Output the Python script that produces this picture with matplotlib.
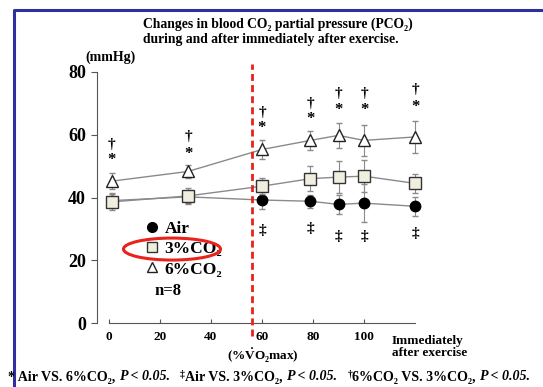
import numpy as np
import matplotlib.pyplot as plt
from matplotlib.lines import Line2D
from matplotlib.patches import Ellipse

# Data
x = [1, 31, 60, 79, 90, 100, 120]
air = [39.0, 40.2, 39.2, 38.8, 37.8, 38.2, 37.2]
air_err = [2.5, 2.0, 3.0, 2.0, 3.0, 6.0, 3.0]
co2_3 = [38.6, 40.5, 43.6, 46.0, 46.5, 46.8, 44.5]
co2_3_err = [2.5, 2.5, 2.5, 4.0, 5.0, 5.0, 3.0]
co2_6 = [45.2, 48.3, 55.3, 58.2, 59.8, 58.2, 59.3]
co2_6_err = [2.5, 2.0, 3.0, 3.0, 4.0, 5.0, 5.0]

star_y = [52, 54, 62, 65, 68, 68, 69]
dagger_y = [57, 59.5, 67, 70, 73, 73, 74.5]
ddagger_x = [60, 79, 90, 100, 120]
ddagger_y = [29.5, 30, 27.6, 27.6, 28.5]

xticks = [0, 20, 40, 60, 80, 100]
yticks = [0, 20, 40, 60, 80]
threshold = 56

serif = ['Liberation Serif', 'DejaVu Serif']
plt.rcParams['font.family'] = serif
plt.rcParams['font.weight'] = 'bold'
plt.rcParams['mathtext.fontset'] = 'custom'
plt.rcParams['mathtext.rm'] = 'Liberation Serif:bold'
plt.rcParams['mathtext.bf'] = 'Liberation Serif:bold'

W, H = 543, 387
fig = plt.figure(figsize=(W / 100, H / 100), dpi=100)
ax = fig.add_axes([97 / W, (H - 323) / H, (440 - 97) / W, (323 - 72) / H])
ax.set_xlim(-4.7, 129.8)
ax.set_ylim(0, 80)

grey = '#8a8a8a'
ax.errorbar(x, co2_6, yerr=co2_6_err, color=grey, lw=1, capsize=2, elinewidth=0.8,
            marker='^', ms=8.5, mfc='white', mec='#222222', mew=1, zorder=3)
ax.errorbar(x, co2_3, yerr=co2_3_err, color=grey, lw=1, capsize=2, elinewidth=0.8,
            marker='s', ms=8, mfc='#f0eede', mec='#333333', mew=1, zorder=4)
ax.errorbar(x, air, yerr=air_err, color=grey, lw=1, capsize=2, elinewidth=0.8,
            marker='o', ms=7.5, mfc='black', mec='black', zorder=2)

for xi, sy, dy in zip(x, star_y, dagger_y):
    ax.text(xi, sy, '*', ha='center', va='center', fontsize=12)
    ax.text(xi, dy, '†', ha='center', va='center', fontsize=11)
for xi, yi in zip(ddagger_x, ddagger_y):
    ax.text(xi, yi, '‡', ha='center', va='center', fontsize=11)

ax.plot([threshold, threshold], [-4, 82.5], color='#e8231c', ls=(0, (2.5, 1.5)),
        lw=2, clip_on=False, zorder=5)

for s in ['top', 'right']:
    ax.spines[s].set_visible(False)
ax.spines['left'].set_bounds(0, 80)
ax.spines['bottom'].set_bounds(0, 120)
ax.spines['left'].set_color('#555555')
ax.spines['bottom'].set_color('#555555')
ax.set_yticks(yticks)
ax.set_yticklabels([str(v) for v in yticks], fontsize=13, fontweight='bold')
ax.set_xticks(xticks)
ax.set_xticklabels([str(v) for v in xticks], fontsize=9.5, fontweight='bold')
ax.tick_params(axis='y', direction='out', length=4, color='#555555', pad=4)
ax.tick_params(axis='x', direction='in', length=3, color='#555555', pad=6)

handles = [
    Line2D([], [], ls='none', marker='o', ms=7, mfc='black', mec='black'),
    Line2D([], [], ls='none', marker='s', ms=7, mfc='#f0eede', mec='#333333'),
    Line2D([], [], ls='none', marker='^', ms=7, mfc='white', mec='#222222'),
]
ax.legend(handles, ['Air', '3%CO₂', '6%CO₂'], loc='center left',
          bbox_to_anchor=((136 - 97) / 343, (323 - 249) / 251), frameon=False,
          borderpad=0, handlelength=0.8, handletextpad=0.35, labelspacing=0.25,
          prop={'family': serif, 'weight': 'bold', 'size': 12.5})
ax.text((155 - 109) / 2.55, (323 - 291) / 3.14, 'n=8', fontsize=12, va='center')
ax.add_patch(Ellipse(((172 - 109) / 2.55, (323 - 249) / 3.14), 97 / 2.55, 22 / 3.14,
                     fill=False, ec='#e8231c', lw=2.2, zorder=6))

fig.text(143 / W, 1 - 24 / H, 'Changes in blood CO₂ partial pressure (PCO₂)',
         fontsize=9.8, va='center')
fig.text(143 / W, 1 - 40 / H, 'during and after immediately after exercise.',
         fontsize=9.8, va='center')
fig.text(110 / W, 1 - 57 / H, '(mmHg)', fontsize=10, ha='center', va='center')
fig.text(263 / W, 1 - 356 / H, r'(%$\dot{\mathrm{V}}$O₂max)', fontsize=9.5,
         ha='center', va='center')
fig.text(392 / W, 1 - 347 / H, 'Immediately\nafter exercise', fontsize=9.5,
         va='center', linespacing=1.1)

# footnote with italic P values
renderer = fig.canvas.get_renderer()
segments = [('* Air VS. 6%CO₂, ', 'n'), ('P < 0.05.', 'i'), ('   ', 'n'),
            ('‡', 's'), ('Air VS. 3%CO₂, ', 'n'), ('P < 0.05.', 'i'), ('   ', 'n'),
            ('†', 's'), ('6%CO₂ VS. 3%CO₂, ', 'n'), ('P < 0.05.', 'i')]
xpos = 8 / W
ybase = 1 - 377 / H
for s, st in segments:
    if st == 's':
        t = fig.text(xpos, ybase + 0.007, s, fontsize=7, va='center')
    else:
        t = fig.text(xpos, ybase, s, fontsize=10.1, va='center',
                     style='italic' if st == 'i' else 'normal')
    xpos += t.get_window_extent(renderer).width / fig.bbox.width

# blue frame
fig.add_artist(Line2D([14 / W, 14 / W, 1], [0, 1 - 10 / H, 1 - 10 / H],
                      color='#2f2fa0', lw=2.2))

fig.savefig('out.png', dpi=100)
